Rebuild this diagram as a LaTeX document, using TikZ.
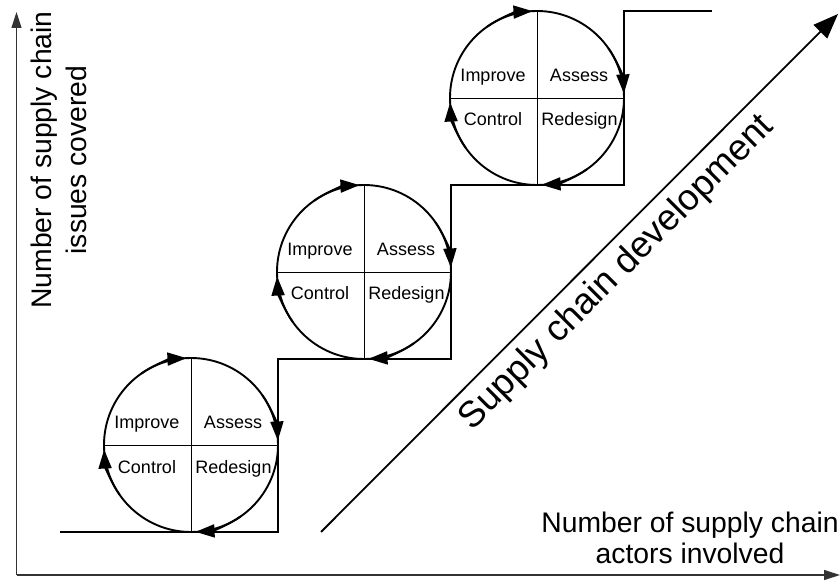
\documentclass[tikz,border=0pt]{standalone}
\usepackage{fontspec}
\setmainfont{Liberation Sans}
\usetikzlibrary{arrows.meta}
\begin{document}
\begin{tikzpicture}[x=1pt,y=1pt,
  cyc/.style={circle,draw,line width=1.9pt,minimum size=174pt,inner sep=0pt,outer sep=0pt},
  quad/.style={line width=0.8pt},
  lab/.style={font=\fontsize{18}{20}\selectfont,anchor=base,inner sep=0pt},
  cyctip/.style={line width=1.9pt,-{Triangle[length=19pt,width=13pt]}},
  stair/.style={line width=2.3pt},
  axisarrow/.style={line width=1.1pt,black!80,-{Triangle[length=16pt,width=10pt]}},
  diag/.style={line width=1.8pt,-{Triangle[length=25pt,width=19pt]}},
  biglab/.style={font=\fontsize{28.3}{35}\selectfont,align=center,inner sep=0pt}]
\useasboundingbox (0,0) rectangle (840,581);

% axes
\coordinate (o) at (16.5,6);
\coordinate (ytop) at (16.5,569);
\coordinate (xend) at (840,6);
\draw[axisarrow] (o) -- (ytop);
\draw[axisarrow] (o) -- (xend);

% cycles
\node[cyc] (c1) at (191,136) {};
\node[cyc] (c2) at (364,309) {};
\node[cyc] (c3) at (537,483) {};

\foreach \cc in {c1,c2,c3}{
  \draw[quad] (\cc.north) -- (\cc.south);
  \draw[quad] (\cc.west) -- (\cc.east);
  \node[lab] at ([shift={(-44,16)}]\cc.center) {Improve};
  \node[lab] at ([shift={(42,16)}]\cc.center) {Assess};
  \node[lab] at ([shift={(-44,-28)}]\cc.center) {Control};
  \node[lab] at ([shift={(42.5,-28)}]\cc.center) {Redesign};
  \draw[cyctip] ([shift={(125:87)}]\cc.center) arc[start angle=125,end angle=93,radius=87];
  \draw[cyctip] ([shift={(35:87)}]\cc.center) arc[start angle=35,end angle=3,radius=87];
  \draw[cyctip] ([shift={(-55:87)}]\cc.center) arc[start angle=-55,end angle=-87,radius=87];
  \draw[cyctip] ([shift={(-145:87)}]\cc.center) arc[start angle=-145,end angle=-177,radius=87];
}

% staircase
\coordinate (start) at (60,49);
\coordinate (finish) at (712,570);
\draw[stair] (start) -- (c1.south) -- (c1.south -| c1.east) -- (c1.east |- c2.south)
  -- (c2.south) -- (c2.south -| c2.east) -- (c2.east |- c3.south)
  -- (c3.south) -- (c3.south -| c3.east) -- (c3.east |- finish) -- (finish);

% development arrow
\coordinate (d0) at (321,49);
\coordinate (d1) at (838,567);
\draw[diag] (d0) -- (d1);
\node[font=\fontsize{36.5}{40}\selectfont,rotate=45,inner sep=0pt] (dev) at (617,308) {Supply chain development};

% axis labels
\node[biglab,rotate=90] (ylab) at (59,421) {Number of supply chain\\issues covered};
\node[biglab,font=\fontsize{28.3}{31}\selectfont] (xlab) at (690,43) {Number of supply chain\\actors involved};
\end{tikzpicture}
\end{document}
